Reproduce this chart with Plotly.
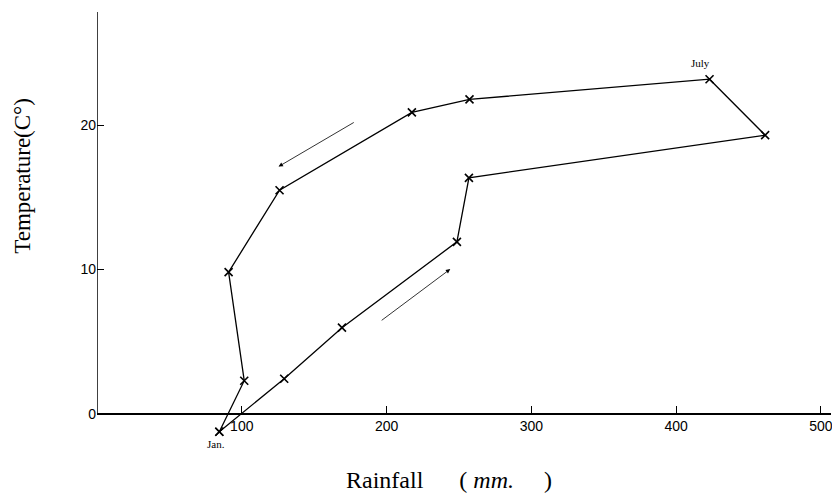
import plotly.graph_objects as go

# Data (monthly climograph, Jan -> Dec, closed loop)
months = ["Jan", "Feb", "Mar", "Apr", "May", "Jun", "Jul", "Aug", "Sep", "Oct", "Nov", "Dec"]
rainfall = [84.5, 129.3, 169.2, 248.6, 256.9, 461.5, 423.1, 257.3, 217.5, 126.1, 90.9, 101.7]
temperature = [-1.25, 2.43, 5.97, 11.92, 16.36, 19.32, 23.2, 21.8, 20.9, 15.5, 9.82, 2.29]

x_ticks = [100, 200, 300, 400, 500]
y_ticks = [0, 10, 20]

# direction arrows (tail -> head) in data units
arrow_tail_x = [178.4, 195.6]
arrow_tail_y = [20.26, 6.4]
arrow_head_x = [125.4, 244.0]
arrow_head_y = [17.14, 10.03]

X_MAX = 507
Y_MIN, Y_MAX = -3, 27.86

loop_x = rainfall + [rainfall[0]]
loop_y = temperature + [temperature[0]]

tick_font = dict(family="Liberation Sans Narrow, Liberation Sans, Arial, sans-serif",
                 size=14, color="black")
serif = "Liberation Serif, Times New Roman, serif"
NB = "\u00a0"

fig = go.Figure()
fig.add_trace(go.Scatter(
    x=loop_x, y=loop_y, mode="lines+markers",
    line=dict(color="black", width=1.3),
    marker=dict(symbol="x-thin", size=8, color="black", line=dict(color="black", width=1.6)),
    hoverinfo="skip", showlegend=False, cliponaxis=False,
))

# y-axis line (starts at the x-axis, y=0)
fig.add_shape(type="line", xref="x", yref="y", x0=0, x1=0, y0=0, y1=Y_MAX,
              line=dict(color="black", width=1.5))

annotations = []
for tx, ty, hx, hy in zip(arrow_tail_x, arrow_tail_y, arrow_head_x, arrow_head_y):
    annotations.append(dict(x=hx, y=hy, ax=tx, ay=ty, xref="x", yref="y", axref="x", ayref="y",
                            showarrow=True, arrowhead=2, arrowsize=1.1, arrowwidth=0.8,
                            arrowcolor="black", text=""))

annotations.append(dict(x=rainfall[0], y=temperature[0], xref="x", yref="y", text="Jan.",
                        showarrow=False, yshift=-12, xshift=-3,
                        font=dict(family=serif, size=11, color="black")))
annotations.append(dict(x=rainfall[6], y=temperature[6], xref="x", yref="y", text="July",
                        showarrow=False, yshift=16, xshift=-9,
                        font=dict(family=serif, size=11, color="black")))

annotations.append(dict(x=-0.1008, y=0.632, xref="paper", yref="paper",
                        text="Temperature(C°)", textangle=-90, showarrow=False,
                        xanchor="center", yanchor="middle",
                        font=dict(family=serif, size=23, color="black")))
annotations.append(dict(x=0.4796, y=-0.0517, xref="paper", yref="paper",
                        text="Rainfall" + NB * 6 + "(" + NB + "<i>mm.</i>" + NB * 5 + ")",
                        showarrow=False, xanchor="center", yanchor="middle",
                        font=dict(family=serif, size=24, color="black")))

fig.update_layout(
    width=832, height=494,
    margin=dict(l=97, r=1, t=12, b=37, autoexpand=False),
    paper_bgcolor="white", plot_bgcolor="white",
    annotations=annotations,
    xaxis=dict(range=[0, X_MAX], anchor="free", position=(0 - Y_MIN) / (Y_MAX - Y_MIN),
               showline=True, linecolor="black", linewidth=1.5, automargin=False,
               ticks="inside", ticklen=7, tickwidth=1, tickcolor="black",
               tickvals=x_ticks, ticktext=[str(v) for v in x_ticks],
               ticklabeloverflow="allow",
               showgrid=False, zeroline=False, tickfont=tick_font),
    yaxis=dict(range=[Y_MIN, Y_MAX], showline=False, automargin=False,
               ticks="inside", ticklen=7, tickwidth=1, tickcolor="black",
               tickvals=y_ticks, ticktext=[str(v) for v in y_ticks],
               showgrid=False, zeroline=False, tickfont=tick_font),
)

fig.write_html(
    "out.html",
    config={"displayModeBar": False},
    post_script="document.body.style.margin='0px';document.body.style.overflow='hidden';",
)
